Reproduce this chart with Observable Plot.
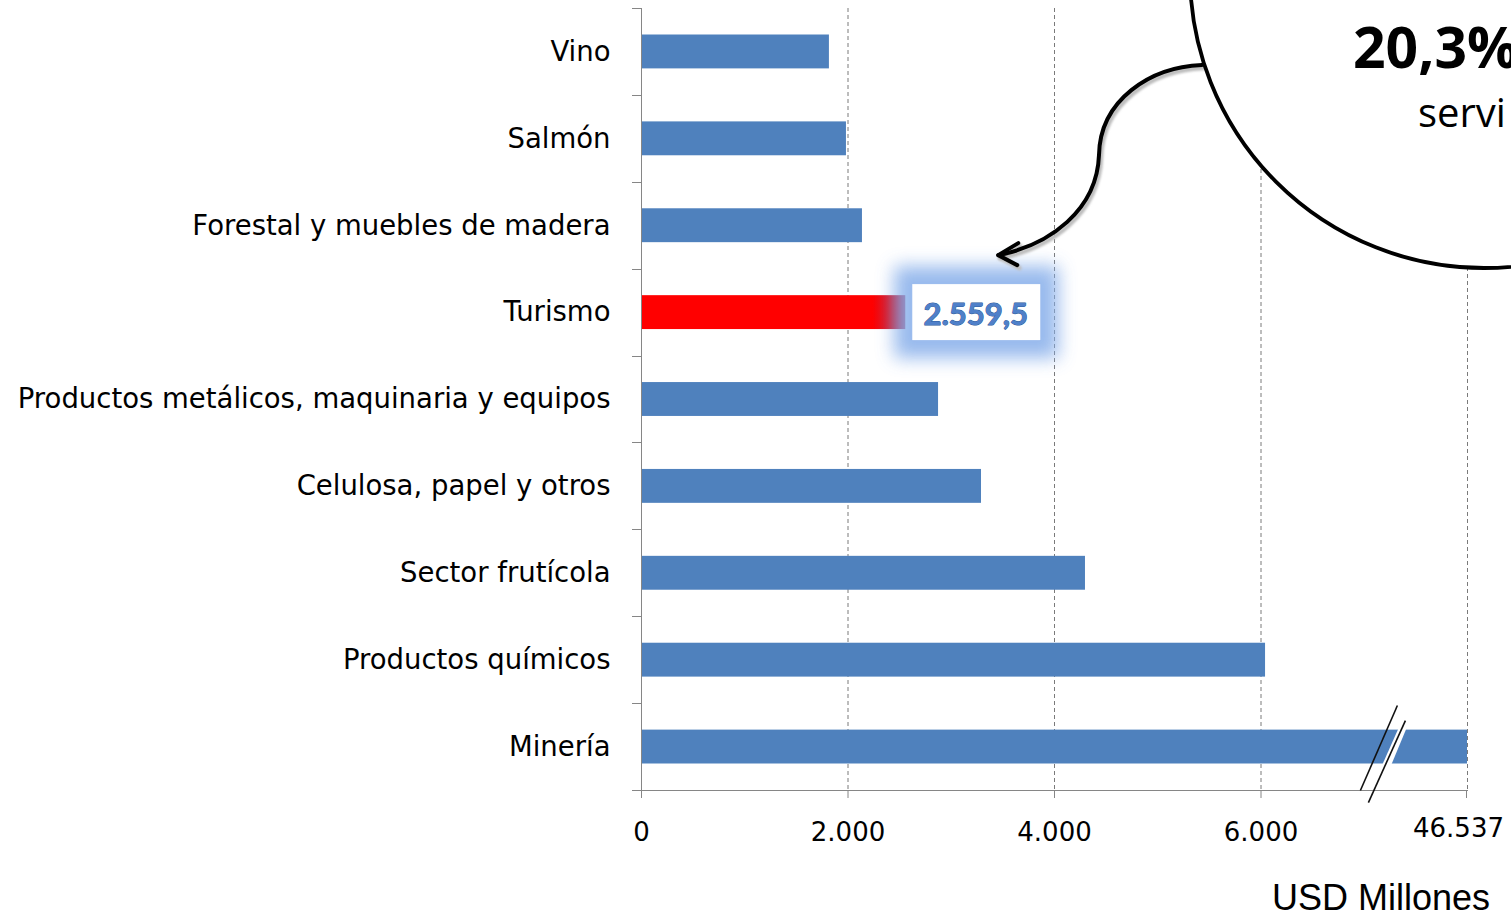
<!DOCTYPE html>
<html><head><meta charset="utf-8">
<script src="https://cdn.jsdelivr.net/npm/d3@7"></script>
<script src="https://cdn.jsdelivr.net/npm/@observablehq/plot@0.6"></script>
<style>html,body{margin:0;padding:0;background:#fff;overflow:hidden}</style>
</head><body><div id="chart"></div>
<script>
// ---- data ----
const categories = ["Vino","Salmón","Forestal y muebles de madera","Turismo","Productos metálicos, maquinaria y equipos","Celulosa, papel y otros","Sector frutícola","Productos químicos","Minería"];
const values = [1820, 1985, 2140, 2559.5, 2877, 3293, 4300, 6044, 46537];
const tickValues = [0, 2000, 4000, 6000, 46537];
const tickLabels = ["0", "2.000", "4.000", "6.000", "46.537"];
const highlight = "Turismo";
const calloutLines = ["20,3%", "servi"];
const unitLabel = "USD Millones";
const breakValue = 7200;   // axis break between 6.000 and 46.537
const slotValue = 8000;    // position of the last (broken) tick on the linear part

const data = categories.map((c, i) => ({cat: c, value: values[i]}));
const es = d3.formatLocale({decimal: ",", thousands: ".", grouping: [3], currency: ["$", ""]});
const fmt = es.format(",.1f");
const tickFmt = d => tickLabels[tickValues.indexOf(d)];

const W = 1511, H = 918;
const mL = 641, mR = 44, mT = 8, mB = 128;
const x0 = mL, x1 = W - mR;
const k = (x1 - x0) / slotValue;
const lastTick = tickValues[tickValues.length - 1];

const axisStyle = {tickFormat: tickFmt, tickSize: 8, tickPadding: 24, fontSize: 26, fontFamily: "DejaVu Sans",
  stroke: "#868686", fill: "#000", label: null};

const plot = Plot.plot({
  width: W, height: H,
  marginLeft: mL, marginRight: mR, marginTop: mT, marginBottom: mB,
  style: {background: "#fff", overflow: "hidden"},
  x: {type: "linear", domain: [0, breakValue, lastTick], range: [x0, x0 + breakValue * k, x1]},
  y: {type: "band", domain: categories, paddingInner: 0.61, paddingOuter: 0.305, align: 0.5, round: false},
  marks: [
    Plot.gridX(tickValues.slice(1), {stroke: "#7a7a7a", strokeOpacity: 1, strokeDasharray: "4,3", strokeWidth: 1}),
    Plot.barX(data.filter(d => d.cat !== highlight), {x: "value", y: "cat", fill: "#4f81bd"}),
    Plot.barX(data.filter(d => d.cat === highlight), {x: "value", y: "cat", fill: "url(#redgrad)"}),
    Plot.frame({anchor: "left", stroke: "#868686"}),
    Plot.frame({anchor: "bottom", stroke: "#868686"}),
    Plot.axisX(tickValues.slice(0, -1), axisStyle),
    Plot.axisX([lastTick], {...axisStyle, tickSize: 0, tickPadding: 32, dx: -9, dy: -4}),
    Plot.axisY({tickSize: 0, tickPadding: 31, fontSize: 27.5, fontFamily: "DejaVu Sans", fill: "#000", label: null}),
    Plot.text(data.filter(d => d.cat === highlight), {x: "value", y: "cat", text: d => fmt(d.value), dx: 70, dy: 2,
      fill: "#4f80c9", stroke: "#2a5796", strokeWidth: 1, fontSize: 31, fontWeight: "bold", fontFamily: "Lato", textAnchor: "middle"})
  ]
});
document.getElementById("chart").appendChild(plot);

// ---- annotations built from the scales ----
const svg = d3.select(plot);
const xs = plot.scale("x"), ys = plot.scale("y");
const X = v => xs.apply(v);
const bw = ys.bandwidth, step = ys.step;

const defs = svg.insert("defs", ":first-child");
const g1 = defs.append("linearGradient").attr("id", "redgrad").attr("x1", 0).attr("x2", 1).attr("y1", 0).attr("y2", 0);
g1.append("stop").attr("offset", "0").attr("stop-color", "#ff0000");
g1.append("stop").attr("offset", "0.875").attr("stop-color", "#ff0000");
g1.append("stop").attr("offset", "1").attr("stop-color", "#b0284a");
defs.append("filter").attr("id", "glow").attr("x", "-50%").attr("y", "-50%").attr("width", "200%").attr("height", "200%")
  .append("feGaussianBlur").attr("stdDeviation", 9);
defs.append("filter").attr("id", "soft").attr("x", "-20%").attr("y", "-20%").attr("width", "140%").attr("height", "140%")
  .append("feGaussianBlur").attr("stdDeviation", 1.2);

// tick mark under the last (broken) tick
const gt = svg.append("g").attr("stroke", "#868686");
gt.append("line").attr("x1", X(lastTick) - 0.5).attr("x2", X(lastTick) - 0.5).attr("y1", H - mB).attr("y2", H - mB + 8);
// y boundary ticks (left of the axis)
const yTop = ys.apply(categories[0]) - (step - bw) / 2;
for (let i = 0; i <= categories.length; i++) {
  const yy = Math.round(yTop + i * step) + 0.5;
  gt.append("line").attr("x1", x0 - 9).attr("x2", x0).attr("y1", yy).attr("y2", yy);
}

// highlighted value box behind its text
const hv = values[categories.indexOf(highlight)];
const hy = ys.apply(highlight) + bw / 2;
const bx = X(hv) + 7;
const box = svg.insert("g", "g[aria-label='text']");
box.append("rect").attr("x", bx - 18).attr("y", hy - 46).attr("width", 164).attr("height", 92)
  .attr("fill", "#86aeea").attr("opacity", 0.85).attr("filter", "url(#glow)");
box.append("rect").attr("x", bx).attr("y", hy - 28).attr("width", 128).attr("height", 56).attr("fill", "#fff");

// axis break on the last bar
const mb = ys.apply(categories[categories.length - 1]) + bw / 2;
const xb = X(breakValue);
const brk = svg.append("g");
const L1 = [[xb + 13, mb - 41], [xb - 24, mb + 44]];
const L2 = [[xb + 21, mb - 26], [xb - 16, mb + 56]];
brk.append("polygon")
  .attr("points", [[xb + 14, mb - 18], [xb - 2, mb + 18], [xb + 7, mb + 18], [xb + 22, mb - 18]].join(" "))
  .attr("fill", "#fff");
brk.append("line").attr("x1", L1[0][0]).attr("y1", L1[0][1]).attr("x2", L1[1][0]).attr("y2", L1[1][1]).attr("stroke", "#111").attr("stroke-width", 1.6);
brk.append("line").attr("x1", L2[0][0]).attr("y1", L2[0][1]).attr("x2", L2[1][0]).attr("y2", L2[1][1]).attr("stroke", "#111").attr("stroke-width", 1.6);

// callout arrow
const tipX = bx + 86, tipY = hy - 57;
const arrowD = `M1202,65 C1150,67 1100,100 1099,155 C1097,210 1050,245 ${tipX},${tipY}`;
const headD = `M${tipX + 20},${tipY - 12} L${tipX},${tipY} L${tipX + 19},${tipY + 10}`;
const ga = svg.append("g").attr("fill", "none").attr("stroke-linecap", "round").attr("stroke-linejoin", "round");
ga.append("path").attr("d", arrowD).attr("transform", "translate(2,3)").attr("stroke", "#bdbdbd").attr("stroke-width", 4.5).attr("filter", "url(#soft)");
ga.append("path").attr("d", headD).attr("transform", "translate(2,3)").attr("stroke", "#bdbdbd").attr("stroke-width", 4.5).attr("filter", "url(#soft)");
ga.append("path").attr("d", arrowD).attr("stroke", "#000").attr("stroke-width", 4);
ga.append("path").attr("d", headD).attr("stroke", "#000").attr("stroke-width", 4);

// callout bubble
svg.append("circle").attr("cx", 1484).attr("cy", -26).attr("r", 294).attr("fill", "#fff").attr("stroke", "#000").attr("stroke-width", 3.8);
svg.append("text").attr("x", 1353).attr("y", 68).attr("text-anchor", "start").attr("font-family", "Open Sans").attr("font-weight", "bold").attr("font-size", 57).attr("fill", "#000").text(calloutLines[0]);
svg.append("text").attr("x", 1418).attr("y", 127).attr("text-anchor", "start").attr("font-family", "Open Sans").attr("font-size", 40).attr("fill", "#000").text(calloutLines[1]);

// unit label
svg.append("text").attr("x", 1490).attr("y", 910).attr("text-anchor", "end").attr("font-family", "Liberation Sans, Arial").attr("font-size", 36).attr("fill", "#000").text(unitLabel);
</script></body></html>
